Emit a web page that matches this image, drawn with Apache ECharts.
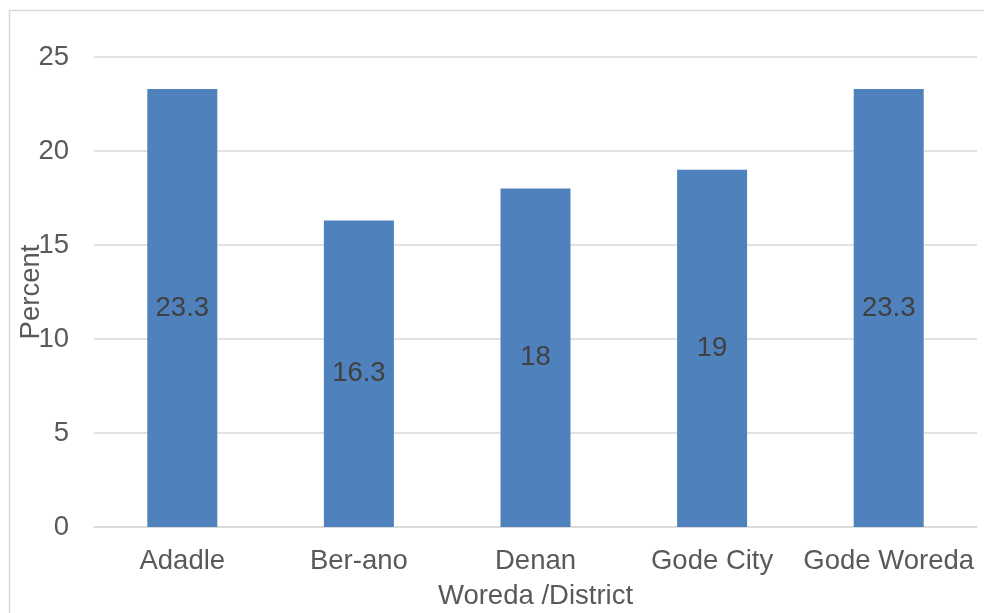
<!DOCTYPE html>
<html>
<head>
<meta charset="utf-8">
<script src="https://cdn.jsdelivr.net/npm/echarts@6/dist/echarts.min.js"></script>
<style>
  html, body { margin: 0; padding: 0; background: #ffffff; }
  #chart { width: 984px; height: 613px; }
</style>
</head>
<body>
<div id="chart"></div>
<script>
// Share by district (percent)
const districts = ['Adadle', 'Ber-ano', 'Denan', 'Gode City', 'Gode Woreda'];
const percentValues = [23.3, 16.3, 18, 19, 23.3];
const yTicks = { min: 0, max: 25, interval: 5 };

const font = 'Liberation Sans, Arial, sans-serif';
const fontSize = 27.5;
const chart = echarts.init(document.getElementById('chart'), null, { renderer: 'canvas' });

chart.setOption({
  animation: false,
  backgroundColor: '#ffffff',
  graphic: [{
    type: 'rect',
    shape: { x: 9.5, y: 10.5, width: 1000, height: 700 },
    style: { fill: 'none', stroke: '#d9d9d9', lineWidth: 1.5 },
    silent: true
  }],
  grid: { left: 94, right: 7, top: 57, bottom: 86, containLabel: false, outerBoundsMode: 'none' },
  xAxis: {
    type: 'category',
    data: districts,
    name: 'Woreda /District',
    nameLocation: 'middle',
    nameGap: 55,
    nameMoveOverlap: false,
    nameTextStyle: { color: '#595959', fontSize: fontSize, fontFamily: font },
    axisLine: { lineStyle: { color: '#d9d9d9', width: 1.5 } },
    axisTick: { show: false },
    axisLabel: { color: '#595959', fontSize: fontSize, fontFamily: font, margin: 20, interval: 0, hideOverlap: false }
  },
  yAxis: {
    type: 'value',
    min: yTicks.min,
    max: yTicks.max,
    interval: yTicks.interval,
    name: 'Percent',
    nameLocation: 'middle',
    nameGap: 49,
    nameMoveOverlap: false,
    nameTextStyle: { color: '#595959', fontSize: fontSize, fontFamily: font },
    axisLine: { show: false },
    axisTick: { show: false },
    splitLine: { lineStyle: { color: '#d9d9d9', width: 1.5 } },
    axisLabel: { color: '#595959', fontSize: fontSize, fontFamily: font, margin: 25 }
  },
  series: [{
    type: 'bar',
    data: percentValues,
    barWidth: 70,
    itemStyle: { color: '#4f81bd' },
    label: {
      show: true,
      position: 'inside',
      color: '#404040',
      fontSize: fontSize,
      fontFamily: font
    }
  }]
});
</script>
</body>
</html>
